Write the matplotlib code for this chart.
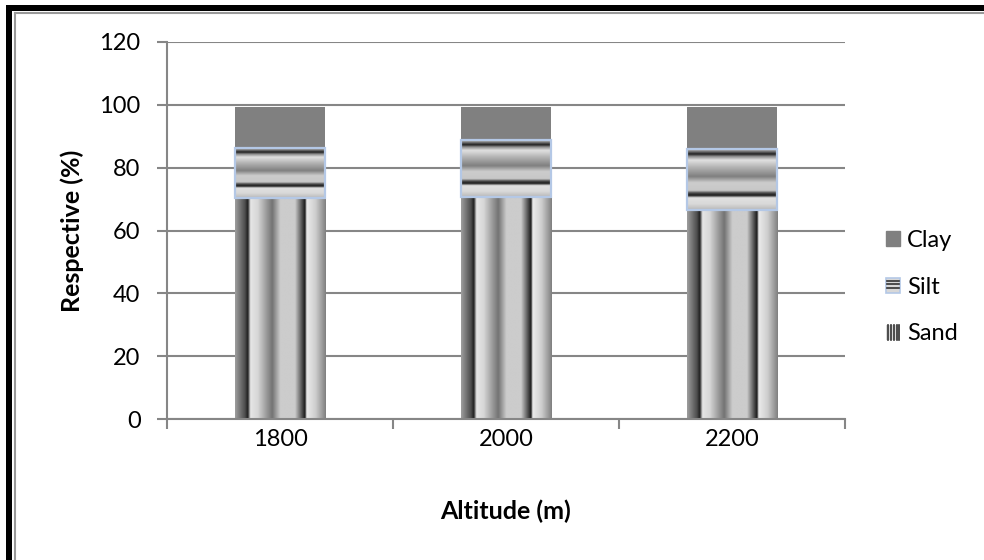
import numpy as np
import matplotlib.pyplot as plt
from matplotlib.patches import Rectangle
from matplotlib.lines import Line2D
from matplotlib.legend_handler import HandlerBase

plt.rcParams['font.family'] = ['Lato', 'DejaVu Sans']

# soil texture per altitude (%)
altitudes = ['1800', '2000', '2200']
sand = [70.5, 70.7, 66.5]
silt = [15.7, 18.1, 19.3]
clay = [13.1, 10.5, 13.5]
yticks = [0, 20, 40, 60, 80, 100, 120]

# grey levels across the bar for the "metal" gradient fill
prof_pos = [0.0, 0.11, 0.14, 0.17, 0.25, 0.41, 0.5, 0.66, 0.74, 0.77, 0.79, 0.89, 1.0]
prof_val = [0.62, 0.3, 0.12, 0.9, 0.84, 0.45, 0.8, 0.8, 0.3, 0.1, 0.92, 0.8, 0.5]
silt_pos = [0.0, 0.04, 0.08, 0.12, 0.18, 0.3, 0.45, 0.55, 0.68, 0.72, 0.76, 0.8, 0.9, 1.0]
silt_val = [0.75, 0.45, 0.12, 0.55, 0.88, 0.7, 0.5, 0.8, 0.78, 0.3, 0.1, 0.88, 0.85, 0.72]

grid_col = '#868686'
clay_col = '#808080'
silt_edge = '#B4C8E6'
tick_fs = 17
label_fs = 18

fig = plt.figure(figsize=(9.84, 5.6), dpi=100)
ax = fig.add_axes([167 / 984, 1 - 419 / 560, (845 - 167) / 984, (419 - 42) / 560])

x = np.arange(len(altitudes))
w = 0.4
sand_bars = ax.bar(x, sand, w, color='none', edgecolor='none', zorder=2)
silt_bars = ax.bar(x, silt, w, bottom=sand, color='none', edgecolor='none', zorder=2)
clay_bars = ax.bar(x, clay, w, bottom=np.add(sand, silt), color=clay_col,
                   edgecolor='none', zorder=2)

t = np.linspace(0, 1, 300)
hprof = np.interp(t, prof_pos, prof_val)[None, :]
vprof = np.interp(t, silt_pos, silt_val)[:, None]

for b in sand_bars:
    x0, y0 = b.get_x(), b.get_y()
    im = ax.imshow(hprof, cmap='gray', vmin=0, vmax=1, aspect='auto',
                   extent=(x0, x0 + b.get_width(), y0, y0 + b.get_height()),
                   interpolation='bilinear', zorder=2)
    im.set_clip_path(b)

for b in silt_bars:
    x0, y0 = b.get_x(), b.get_y()
    im = ax.imshow(vprof, cmap='gray', vmin=0, vmax=1, aspect='auto',
                   extent=(x0, x0 + b.get_width(), y0, y0 + b.get_height()),
                   origin='upper', interpolation='bilinear', zorder=2)
    im.set_clip_path(b)
    ax.add_patch(Rectangle((x0, y0), b.get_width(), b.get_height(), fill=False,
                           edgecolor=silt_edge, linewidth=1.6, zorder=3))

ax.set_xlim(-0.5, 2.5)
ax.set_ylim(0, 120)
ax.set_yticks(yticks)
ax.set_xticks([-0.5, 0.5, 1.5, 2.5])
ax.set_xticklabels([])
ax.set_xticks(x, minor=True)
ax.set_xticklabels(altitudes, minor=True)
ax.tick_params(axis='x', which='minor', length=0, pad=7, labelsize=tick_fs)
ax.tick_params(axis='x', which='major', length=7, width=1.5, color=grid_col)
ax.tick_params(axis='y', length=7, width=1.5, color=grid_col, labelsize=tick_fs, pad=12)
ax.yaxis.grid(True, color=grid_col, linewidth=1.5, zorder=0)
ax.set_axisbelow(True)
for s in ['top', 'right']:
    ax.spines[s].set_visible(False)
for s in ['left', 'bottom']:
    ax.spines[s].set_color(grid_col)
    ax.spines[s].set_linewidth(1.5)

ax.set_ylabel('Respective (%)', fontsize=label_fs, fontweight='bold', labelpad=11)
ax.set_xlabel('Altitude (m)', fontsize=label_fs, fontweight='bold', labelpad=36)


class StripeHandler(HandlerBase):
    def __init__(self, vertical, edge):
        super().__init__()
        self.vertical = vertical
        self.edge = edge

    def create_artists(self, legend, orig, xd, yd, width, height, fontsize, trans):
        arts = [Rectangle((-xd, -yd), width, height, facecolor='#D8D8D8',
                          edgecolor=self.edge, linewidth=1.2, transform=trans)]
        if self.vertical:
            for f in [0.15, 0.35, 0.55, 0.75, 0.9]:
                arts.append(Line2D([-xd + f * width] * 2, [-yd, -yd + height],
                                   color='#333333', linewidth=1.2, transform=trans))
        else:
            for f in [0.3, 0.55, 0.8]:
                arts.append(Line2D([-xd + 0.1 * width, -xd + 0.9 * width], [-yd + f * height] * 2,
                                   color='#333333', linewidth=1.2, transform=trans))
        return arts


h_clay = Rectangle((0, 0), 1, 1, color=clay_col)
h_silt = Rectangle((0, 0), 1, 1)
h_sand = Rectangle((0, 0), 1, 1)
fig.legend([h_clay, h_silt, h_sand], ['Clay', 'Silt', 'Sand'],
           handler_map={h_silt: StripeHandler(False, silt_edge),
                        h_sand: StripeHandler(True, 'none')},
           loc='center left', bbox_to_anchor=(886 / 984, 1 - 287 / 560),
           frameon=False, fontsize=tick_fs, handlelength=0.6, handleheight=0.6,
           handletextpad=0.3, labelspacing=1.1, borderaxespad=0, borderpad=0)

# outer frame: thick black on top/left with a thin grey line inside
fig.add_artist(Rectangle((6 / 984, 1 - 11 / 560), 1, 6 / 560, transform=fig.transFigure,
                         facecolor='black', edgecolor='none'))
fig.add_artist(Rectangle((6 / 984, 0), 6 / 984, 1 - 5 / 560, transform=fig.transFigure,
                         facecolor='black', edgecolor='none'))
fig.add_artist(Line2D([15 / 984, 1], [1 - 12.5 / 560] * 2, transform=fig.transFigure,
                      color='#999999', linewidth=1.5))
fig.add_artist(Line2D([15 / 984] * 2, [0, 1 - 12.5 / 560], transform=fig.transFigure,
                      color='#999999', linewidth=1.5))

fig.savefig('out.png', dpi=100)
